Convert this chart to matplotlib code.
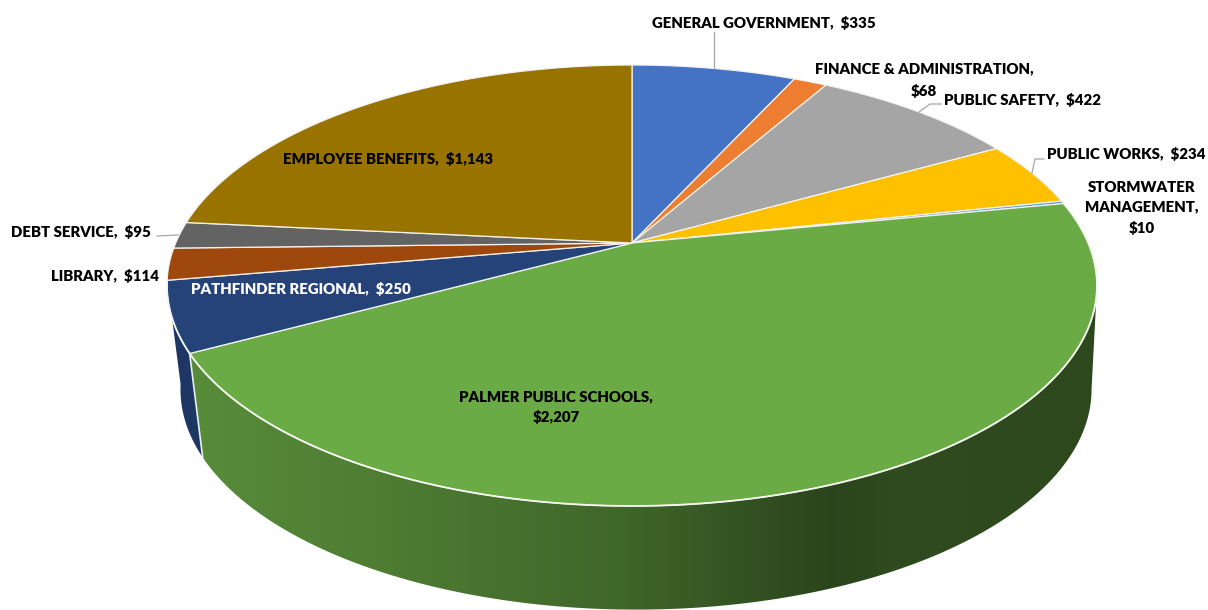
import numpy as np
import matplotlib
matplotlib.use("Agg")
import matplotlib.pyplot as plt
from matplotlib.colors import to_rgb
from matplotlib.patches import Polygon

names = ["GENERAL GOVERNMENT", "FINANCE & ADMINISTRATION", "PUBLIC SAFETY", "PUBLIC WORKS",
         "STORMWATER MANAGEMENT", "PALMER PUBLIC SCHOOLS", "PATHFINDER REGIONAL", "LIBRARY",
         "DEBT SERVICE", "EMPLOYEE BENEFITS"]
values = [335, 68, 422, 234, 10, 2207, 250, 114, 95, 1143]
colors = ["#4472C4", "#ED7D31", "#A5A5A5", "#FFC000", "#5B9BD5", "#6BAB46", "#254379", "#9E480E", "#636363", "#997300"]

# label text, x, y, colour
label_text = ["GENERAL GOVERNMENT,  $335", "FINANCE & ADMINISTRATION,", "$68", "PUBLIC SAFETY,  $422",
              "PUBLIC WORKS,  $234", "STORMWATER\nMANAGEMENT,\n$10", "PALMER PUBLIC SCHOOLS,\n$2,207",
              "PATHFINDER REGIONAL,  $250", "LIBRARY,  $114", "DEBT SERVICE,  $95", "EMPLOYEE BENEFITS,  $1,143"]
label_x = [764, 924, 924, 1022, 1126, 1142, 556, 301, 105, 81, 388]
label_y = [23, 69, 91, 100, 154, 208, 407, 289, 276, 232, 159]
label_col = ["black"] * 7 + ["white"] + ["black"] * 3

# leader lines as (xs, ys)
leaders = [([714, 714], [32, 68]), ([941, 930, 919], [104, 104, 112]),
           ([1044, 1035, 1032], [159, 159, 173]), ([157, 178], [236, 235])]

# side shading: picture x -> colour factor
shade_x = [190, 400, 620, 830, 900, 1100]
shade_f = [0.82, 0.72, 0.60, 0.40, 0.44, 0.42]
wall_slices = [5, 6]


def project(t, cx, cy, a, b, k):
    # angle clockwise from the top of the disc, perspective squeeze towards the back
    u, v = np.sin(t), np.cos(t)
    w = 1 + k * v
    return cx + a * u / w, cy - b * v / w


top = dict(cx=632, cy=243, a=456.3, b=212.3, k=0.1927)
low = dict(cx=636, cy=347, a=447, b=212, k=0.1927)

edges = np.radians(np.cumsum([0] + values) / sum(values) * 360)

fig = plt.figure(figsize=(12.08, 6.10), dpi=100)
ax = fig.add_axes([0, 0, 1, 1])

# side wall with left-to-right shading, clipped to each slice's outline
# the wall outline on the right starts where the disc is widest
xgrid = np.arange(1208)
for i in wall_slices:
    start = max(edges[i], np.arccos(-top["k"]))
    ts = np.linspace(start, edges[i + 1], 300)
    x0, y0 = project(ts, **top)
    x1, y1 = project(ts[::-1], **low)
    grad = np.outer(np.interp(xgrid, shade_x, shade_f), to_rgb(colors[i]))[None, :, :]
    im = ax.imshow(grad, extent=(0, 1208, 610, 0), aspect="auto", zorder=1)
    im.set_clip_path(Polygon(np.c_[np.r_[x0, x1], np.r_[y0, y1]], transform=ax.transData))

ax.set_xlim(0, 1208)
ax.set_ylim(610, 0)
ax.axis("off")

# white seam between navy and green walls
sx0, sy0 = project(edges[6], **top)
sx1, sy1 = project(edges[6], **low)
ax.plot([sx0, sx1], [sy0, sy1], color="#e8f0f0", lw=1.2, zorder=2)

# top face
cx0, cy0 = top["cx"], top["cy"]
for i in range(len(values)):
    ts = np.linspace(edges[i], edges[i + 1], 200)
    x, y = project(ts, **top)
    ax.fill(np.r_[cx0, x], np.r_[cy0, y], facecolor=colors[i], edgecolor="#f2f2ee", lw=0.9,
            joinstyle="round", zorder=3)

# brighter rim along the front of the disc
for i in wall_slices:
    x, y = project(np.linspace(edges[i], edges[i + 1], 300), **top)
    ax.plot(x, y, color="#f4f6f0", lw=1.3, zorder=3.5)

for (lx, ly) in leaders:
    ax.plot(lx, ly, color="#a6a6a6", lw=0.9, zorder=4)

for s, x, y, c in zip(label_text, label_x, label_y, label_col):
    ax.text(x, y, s, ha="center", va="center", color=c, fontsize=10.8, fontweight=800,
            family="Lato", linespacing=1.58, zorder=5)

fig.savefig("out.png", dpi=100)
